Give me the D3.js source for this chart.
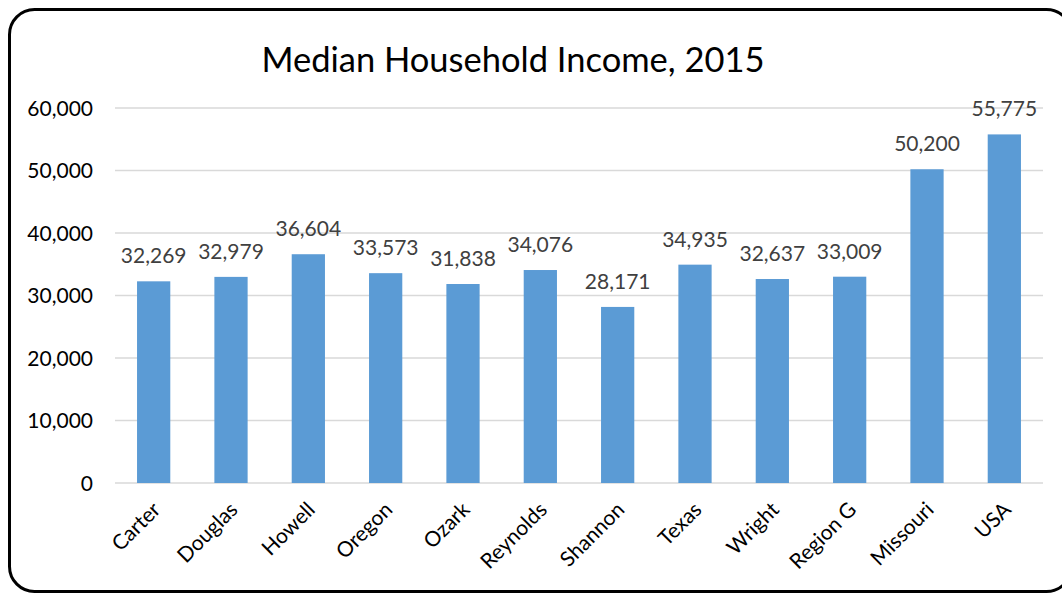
<!DOCTYPE html>
<html><head><meta charset="utf-8">
<script src="https://cdn.jsdelivr.net/npm/d3@7"></script>
<style>body{margin:0;background:#fff}svg{display:block}</style>
</head><body>
<script>
const categories = ["Carter","Douglas","Howell","Oregon","Ozark","Reynolds","Shannon","Texas","Wright","Region G","Missouri","USA"];
const values = [32269,32979,36604,33573,31838,34076,28171,34935,32637,33009,50200,55775];
const yTicks = [0,10000,20000,30000,40000,50000,60000];
const title = "Median Household Income, 2015";

const W=1062,H=594;
const font="Lato, 'Open Sans', sans-serif";
const svg=d3.select("body").append("svg").attr("width",W).attr("height",H);
svg.append("rect").attr("x",9.5).attr("y",9.5).attr("width",1062).attr("height",582)
  .attr("rx",25).attr("fill","#fff").attr("stroke","#000").attr("stroke-width",3);

const x=d3.scaleBand().domain(categories).range([115,1043]).paddingInner(0.57).paddingOuter(0.285);
const y=d3.scaleLinear().domain([0,60000]).range([483,108]);

svg.append("text").attr("x",513).attr("y",72).attr("text-anchor","middle")
  .attr("font-family",font).attr("font-size",34.5).attr("fill","#000").text(title);

const g=svg.append("g");
g.selectAll("line.grid").data(yTicks).join("line")
  .attr("x1",115).attr("x2",1043).attr("y1",d=>y(d)).attr("y2",d=>y(d))
  .attr("stroke","#d9d9d9").attr("stroke-width",1.5);

const yAxis=d3.axisLeft(y).tickValues(yTicks).tickSize(0).tickPadding(0).tickFormat(d3.format(","));
const ya=svg.append("g").attr("transform","translate(93,0)").call(yAxis);
ya.select(".domain").remove();
ya.selectAll("text").attr("font-family",font).attr("font-size",21).attr("fill","#000").attr("dy","0.35em");

g.selectAll("rect.bar").data(values).join("rect").attr("class","bar")
  .attr("x",(d,i)=>x(categories[i])).attr("width",x.bandwidth())
  .attr("y",d=>y(d)).attr("height",d=>y(0)-y(d)).attr("fill","#5b9bd5");

g.selectAll("text.lbl").data(values).join("text")
  .attr("x",(d,i)=>x(categories[i])+x.bandwidth()/2).attr("y",d=>y(d)-18)
  .attr("text-anchor","middle").attr("font-family",font).attr("font-size",21).attr("fill","#404040")
  .text(d=>d3.format(",")(d));

const xAxis=d3.axisBottom(x).tickSize(0).tickPadding(0);
const xa=svg.append("g").attr("transform","translate(0,483)").call(xAxis);
xa.select(".domain").remove();
xa.selectAll("text").attr("font-family",font).attr("font-size",21).attr("fill","#000")
  .attr("text-anchor","end").attr("dy",0).attr("y",0)
  .attr("transform","translate(8,28) rotate(-45)");
</script>
</body></html>
